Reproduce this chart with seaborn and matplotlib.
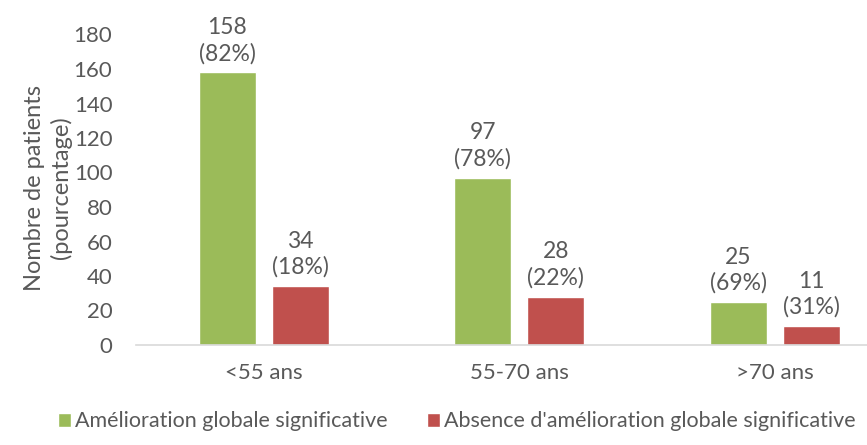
import matplotlib
matplotlib.use("Agg")
import matplotlib.pyplot as plt
import seaborn as sns
import pandas as pd

categories = ["<55 ans", "55-70 ans", ">70 ans"]
series_names = ["Amélioration globale significative",
                "Absence d'amélioration globale significative"]
improved = [158, 97, 25]
not_improved = [34, 28, 11]
improved_pct = [82, 78, 69]
not_improved_pct = [18, 22, 31]
yticks = [0, 20, 40, 60, 80, 100, 120, 140, 160, 180]

colors = ["#9BBB59", "#C0504D"]
text_color = "#595959"

df = pd.DataFrame({
    "cat": categories * 2,
    "series": [series_names[0]] * 3 + [series_names[1]] * 3,
    "value": improved + not_improved,
})

sns.set_theme(style="white")
plt.rcParams["font.family"] = ["Lato", "DejaVu Sans"]

fig = plt.figure(figsize=(8.67, 4.45), dpi=100)
ax = fig.add_axes([136 / 867, 100 / 445, 1 - 136 / 867, 345 / 445])

sns.barplot(data=df, x="cat", y="value", hue="series", order=categories,
            hue_order=series_names, palette=colors, width=0.571, gap=0.22,
            saturation=1, ax=ax, legend=True)

labels_sets = [
    [f"{v}\n({p}%)" for v, p in zip(improved, improved_pct)],
    [f"{v}\n({p}%)" for v, p in zip(not_improved, not_improved_pct)],
]
for cont, labs in zip(ax.containers, labels_sets):
    ax.bar_label(cont, labels=labs, padding=6, fontsize=16.5, color=text_color,
                 linespacing=1.25)

ax.set_xlim(-0.5, (867 - 136) / 255.5 - 0.5)
ax.set_ylim(0, 200)
ax.set_yticks(yticks)
ax.tick_params(axis="both", labelsize=16, colors=text_color, length=0)
ax.tick_params(axis="y", pad=17)
ax.tick_params(axis="x", pad=13)
ax.set_xlabel("")
ax.set_ylabel("Nombre de patients\n(pourcentage)", fontsize=17,
              color=text_color, linespacing=1.25)
ax.yaxis.set_label_coords((72 - 136) / 731, (345 - 188) / 345)
for s in ["top", "right", "left"]:
    ax.spines[s].set_visible(False)
ax.spines["bottom"].set_color("#D9D9D9")
ax.spines["bottom"].set_linewidth(1.2)

handles, labels = ax.get_legend_handles_labels()
ax.get_legend().remove()
leg = fig.legend(handles, labels, loc="lower center", bbox_to_anchor=(0.527, -0.013),
                 ncol=2, frameon=False, fontsize=15.5, handlelength=0.6,
                 handleheight=0.6, handletextpad=0.2, columnspacing=1.8)
for t in leg.get_texts():
    t.set_color(text_color)

fig.savefig("out.png", dpi=100)
